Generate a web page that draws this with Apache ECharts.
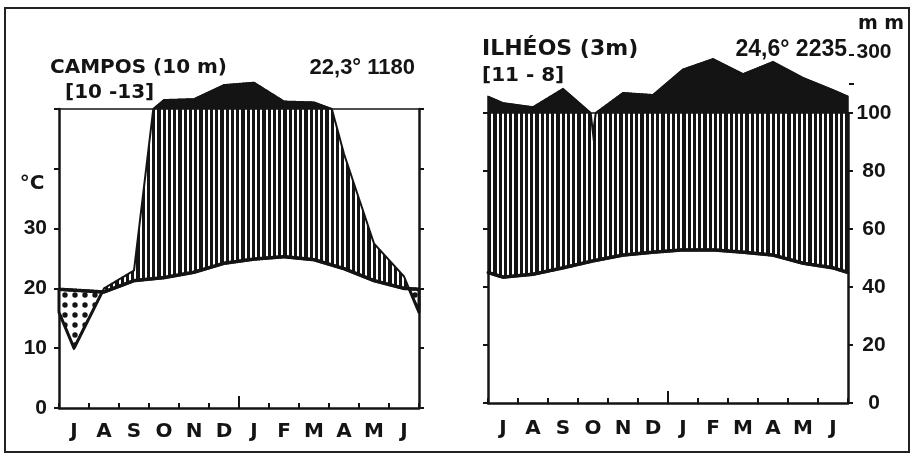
<!DOCTYPE html>
<html><head><meta charset="utf-8">
<script src="https://cdn.jsdelivr.net/npm/echarts@6/dist/echarts.min.js"></script>
<style>html,body{margin:0;padding:0;background:#fff}#c{width:913px;height:454px}</style>
</head><body><div id="c"></div>
<script>
// ---- data (months start in July) ----
const months = ['J','A','S','O','N','D','J','F','M','A','M','J'];
const campTemp = [19.7,19.4,21.3,21.8,22.7,24.2,24.9,25.3,24.8,23.3,21.3,20.0]; // °C
const campPrec = [20,40,46,130,133,180,188,125,122,85,55,44];                  // mm
const ilhTemp  = [21.7,22.2,23.3,24.5,25.5,26.0,26.4,26.4,26.0,25.5,24.1,23.3]; // °C
const ilhPrec  = [134,120,183,93,169,162,250,286,234,276,221,179];              // mm
const tempTickLabels = [0,10,20,30];
const mmTickLabels = [0,20,40,60,80,100];
const mmExtraTicks = [200,300];

const INK = '#141414';
const FONT = 'DejaVu Sans';
const NUMFONT = 'Liberation Sans';

// Walter-Lieth scale: 10 °C = 20 mm, above 100 mm reduced 1:10
function mmToPlot(mm){ return mm <= 100 ? mm/2 : 50 + (mm-100)/20; }

// nodes at month centres, wrapped to the panel edges; interpolate in mm space
function sample(temp, prec){
  const eT = (temp[11]+temp[0])/2, eP = (prec[11]+prec[0])/2;
  const nx=[0], nt=[eT], np=[eP];
  for (let i=0;i<12;i++){ nx.push(i+0.5); nt.push(temp[i]); np.push(prec[i]); }
  nx.push(12); nt.push(eT); np.push(eP);
  const out=[];
  for (let k=0;k<nx.length-1;k++){
    const n = Math.max(2, Math.round(80*(nx[k+1]-nx[k])));
    for (let s=0;s<n;s++){
      const f=s/n;
      out.push({x:nx[k]+f*(nx[k+1]-nx[k]), t:nt[k]+f*(nt[k+1]-nt[k]), p:mmToPlot(np[k]+f*(np[k+1]-np[k]))});
    }
  }
  out.push({x:12, t:eT, p:mmToPlot(eP)});
  return out;
}

function hatch(){
  const w=21, c=document.createElement('canvas'); c.width=w; c.height=4;
  const g=c.getContext('2d'); g.fillStyle='#fff'; g.fillRect(0,0,w,4);
  g.fillStyle=INK; g.fillRect(0,0,3,4); g.fillRect(5,0,3,4); g.fillRect(10,0,4,4); g.fillRect(16,0,3,4);
  return {image:c, repeat:'repeat'};
}
function dots(){
  const c=document.createElement('canvas'); c.width=10; c.height=10;
  const g=c.getContext('2d'); g.fillStyle='#fff'; g.fillRect(0,0,10,10);
  g.fillStyle=INK; g.beginPath(); g.arc(5,5,2.7,0,Math.PI*2); g.fill();
  return {image:c, repeat:'repeat'};
}
const HATCH = hatch(), DOTS = dots();

function panelSeries(g, temp, prec){
  const pts = sample(temp, prec);
  const xi = g*2, yi = g*2;
  const base = {type:'custom', coordinateSystem:'cartesian2d', xAxisIndex:xi, yAxisIndex:yi, clip:false, silent:true, data:[[0,0]]};
  const poly = (top, bot) => (api) => {
    const a = pts.map(q => api.coord([q.x, top(q)]));
    const b = pts.slice().reverse().map(q => api.coord([q.x, bot(q)]));
    return a.concat(b);
  };
  const humid = poly(q => Math.max(q.t, Math.min(q.p,50)), q => q.t);
  const perhumid = poly(q => Math.max(q.p,50), q => 50);
  const dry = poly(q => q.t, q => Math.min(q.p,q.t));
  return [
    Object.assign({}, base, {z:2, renderItem:(p,api)=>({type:'polygon', shape:{points:humid(api)}, style:{fill:HATCH}})}),
    Object.assign({}, base, {z:3, renderItem:(p,api)=>({type:'polygon', shape:{points:perhumid(api)}, style:{fill:INK, stroke:INK, lineWidth:1.5}})}),
    Object.assign({}, base, {z:4, renderItem:(p,api)=>({type:'polygon', shape:{points:dry(api)}, style:{fill:DOTS, stroke:INK, lineWidth:3, lineJoin:'round'}})}),
    Object.assign({}, base, {z:5, renderItem:(p,api)=>({type:'group', children:[
      {type:'polyline', shape:{points:pts.map(q=>api.coord([q.x,q.p]))}, style:{stroke:INK, lineWidth:2, fill:null}},
      {type:'polyline', shape:{points:pts.map(q=>api.coord([q.x,q.t]))}, style:{stroke:INK, lineWidth:3.5, fill:null, lineJoin:'round'}},
      (function(){ const c=api.coord([6,0]); return {type:'line', shape:{x1:c[0],y1:c[1],x2:c[0],y2:c[1]-12}, style:{stroke:INK, lineWidth:2}}; })()
    ]})})
  ];
}

function extraMmTicks(){
  return {type:'custom', coordinateSystem:'cartesian2d', xAxisIndex:2, yAxisIndex:2, clip:false, silent:true, z:6, data:[[0,0]],
    renderItem:(p,api)=>{
      const ch=[];
      mmExtraTicks.forEach(mm=>{
        const c=api.coord([12, mmToPlot(mm)]);
        ch.push({type:'line', shape:{x1:c[0]+1,y1:c[1],x2:c[0]+6,y2:c[1]}, style:{stroke:INK, lineWidth:2}});
        if (mm===300) ch.push({type:'text', style:{text:String(mm), x:c[0]+26, y:c[1]-3, textAlign:'center', textVerticalAlign:'middle', font:'bold 21px "'+NUMFONT+'"', fill:INK}});
      });
      return {type:'group', children:ch};
    }};
}

const axisLine = {show:true, lineStyle:{color:INK, width:2.5}};
const tick = {show:true, length:5, lineStyle:{color:INK, width:2}};
function xAxes(g, margin){
  return [
    {gridIndex:g, type:'value', min:0, max:12, interval:1, position:'bottom', axisLine, axisTick:Object.assign({inside:true}, tick), axisLabel:{show:false}, splitLine:{show:false}},
    {gridIndex:g, type:'category', data:months, position:'bottom', axisLine:{show:false}, axisTick:{show:false},
     axisLabel:{color:INK, fontSize:20, fontWeight:'bold', fontFamily:FONT, margin:margin}, splitLine:{show:false}}
  ];
}
function yAx(g, pos, labelFn, margin, align){
  return {gridIndex:g, type:'value', min:0, max:50, interval:10, position:pos, axisLine, axisTick:tick, splitLine:{show:false},
    axisLabel:{show:!!labelFn, formatter:labelFn||(()=>''), color:INK, fontSize:21, fontWeight:'bold', fontFamily:NUMFONT, margin:margin||8, align:align}};
}

const chart = echarts.init(document.getElementById('c'), null, {renderer:'canvas'});
chart.setOption({
  animation:false,
  backgroundColor:'#fff',
  grid:[
    {left:59, right:494, top:109, bottom:46},
    {left:488, right:65, top:113, bottom:51}
  ],
  xAxis: xAxes(0, 14).concat(xAxes(1, 16)),
  yAxis:[
    yAx(0,'left', v => tempTickLabels.includes(v) ? String(v) : '', 12),
    yAx(0,'right', null),
    yAx(1,'left', null),
    yAx(1,'right', v => mmTickLabels.includes(v*2) ? String(v*2) : '', 26, 'center')
  ],
  graphic:[
    {type:'rect', shape:{x:5,y:8,width:904,height:444}, style:{fill:null, stroke:'#222', lineWidth:2}, silent:true},
    {type:'text', style:{text:'CAMPOS (10 m)', x:50, y:68, textVerticalAlign:'middle', font:'bold 20px "'+FONT+'"', fill:INK}},
    {type:'text', style:{text:'[10 -13]', x:65, y:93, textVerticalAlign:'middle', font:'bold 20px "'+FONT+'"', fill:INK}},
    {type:'text', style:{text:'22,3° 1180', x:415, y:68, textAlign:'right', textVerticalAlign:'middle', font:'bold 22px "'+NUMFONT+'"', fill:INK}},
    {type:'text', style:{text:'°C', x:32, y:184, textAlign:'center', textVerticalAlign:'middle', font:'bold 20px "'+FONT+'"', fill:INK}},
    {type:'text', style:{text:'ILHÉOS (3m)', x:482, y:49, textVerticalAlign:'middle', font:'bold 22px "'+FONT+'"', fill:INK}},
    {type:'text', style:{text:'[11 - 8]', x:482, y:76, textVerticalAlign:'middle', font:'bold 20px "'+FONT+'"', fill:INK}},
    {type:'text', style:{text:'24,6° 2235', x:847, y:50, textAlign:'right', textVerticalAlign:'middle', font:'bold 23px "'+NUMFONT+'"', fill:INK}},
    {type:'text', style:{text:'m m', x:881, y:24, textAlign:'center', textVerticalAlign:'middle', font:'bold 19px "'+FONT+'"', fill:INK}}
  ],
  series: panelSeries(0, campTemp, campPrec).concat(panelSeries(1, ilhTemp, ilhPrec), [extraMmTicks()])
});
</script></body></html>
